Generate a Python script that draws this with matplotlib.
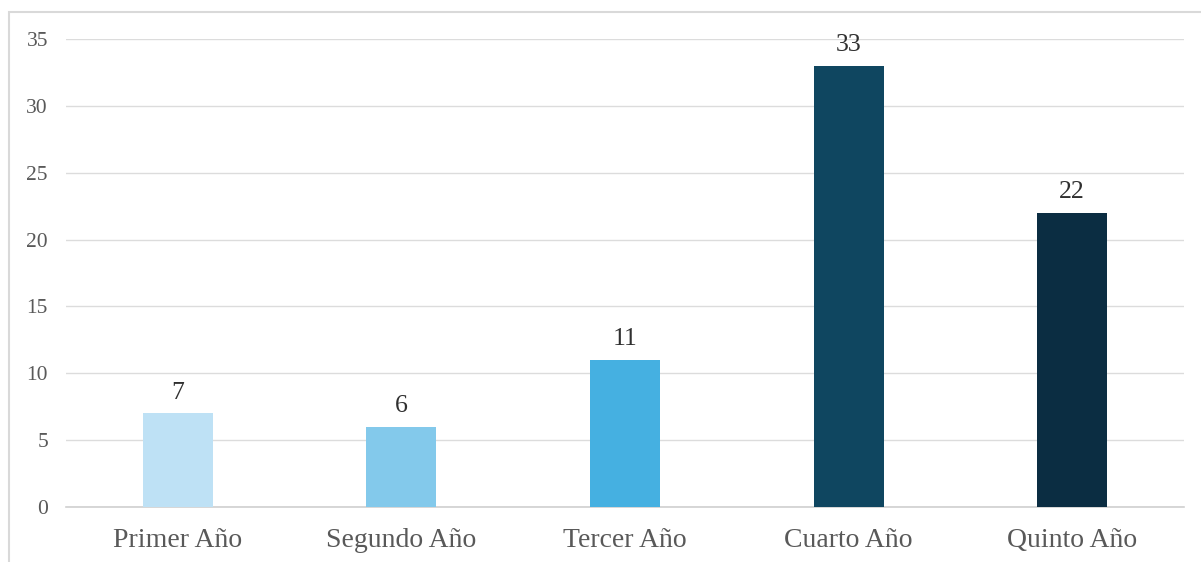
import matplotlib.pyplot as plt
import matplotlib.patches as mpatches

## Chart data
categories = ['Primer Año', 'Segundo Año', 'Tercer Año', 'Cuarto Año', 'Quinto Año']
values = [7, 6, 11, 33, 22]
colors = ['#BEE1F5', '#83C9EB', '#45B0E1', '#0F4660', '#0B2D42']
yticks = [0, 5, 10, 15, 20, 25, 30, 35]

plt.rcParams['font.family'] = ['Liberation Serif', 'DejaVu Serif']

fig = plt.figure(figsize=(12.01, 5.62), dpi=100)
ax = fig.add_axes([66 / 1201, 1 - 507 / 562, 1118 / 1201, 468 / 562])

x = range(len(categories))
bars = ax.bar(x, values, width=0.313, color=colors, zorder=3)
for b, v in zip(bars, values):
    ax.annotate(str(v), (b.get_x() + b.get_width() / 2, v),
                xytext=(0, 7), textcoords='offset points',
                ha='center', va='bottom', fontsize=18.5, color='#303030')

ax.set_xlim(-0.5, len(categories) - 0.5)
ax.set_ylim(0, 35)
ax.set_yticks(yticks)
ax.set_xticks(list(x))
ax.set_xticklabels(categories)
ax.yaxis.grid(True, color='#DCDCDC', linewidth=1.0, zorder=0)
ax.tick_params(axis='y', length=0, pad=13, labelsize=15.5, labelcolor='#595959')
ax.tick_params(axis='x', length=0, pad=15, labelsize=20, labelcolor='#595959')
for s in ax.spines.values():
    s.set_visible(False)
ax.axhline(0, color='#D0D0D0', linewidth=1.2, zorder=2, clip_on=False)

# frame around the chart (right and bottom are cut off in the source)
fig.patches.append(mpatches.Rectangle((9 / 1201, -0.1), 1.2, 1 - 12 / 562 + 0.1,
                                      transform=fig.transFigure, fill=False,
                                      edgecolor='#D9D9D9', linewidth=1.5))

plt.savefig('out.png', dpi=100)
